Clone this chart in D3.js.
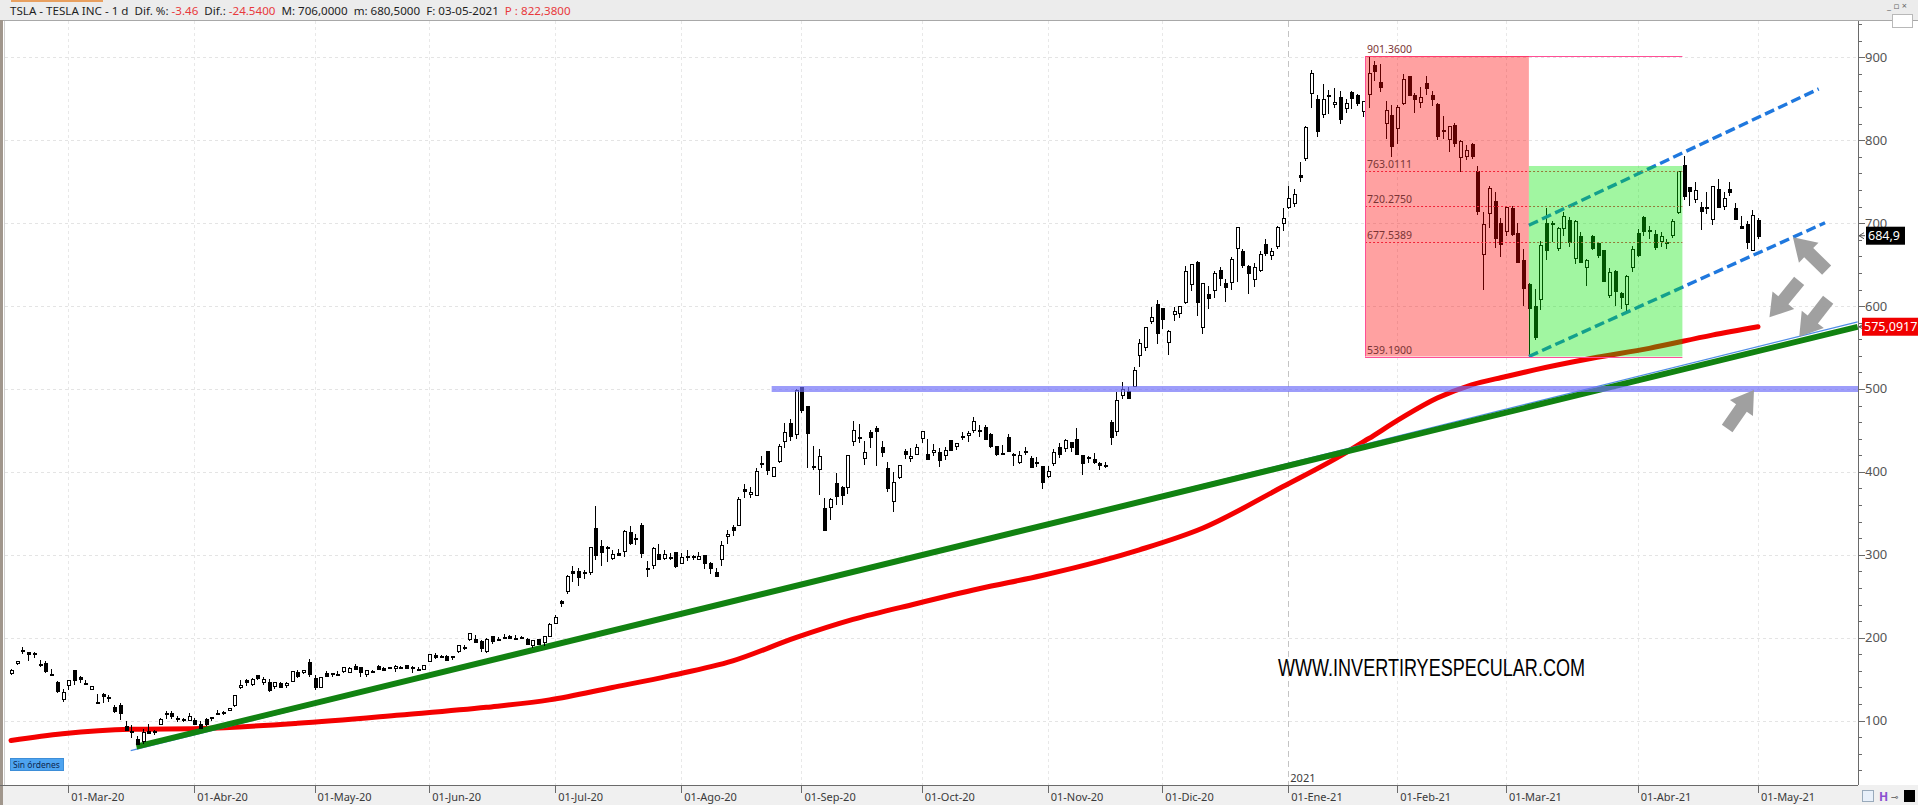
<!DOCTYPE html>
<html><head><meta charset="utf-8">
<script src="https://cdn.jsdelivr.net/npm/d3@7/dist/d3.min.js"></script>
<style>
html,body{margin:0;padding:0;background:#fff;overflow:hidden;}
svg{display:block;font-family:"Noto Sans","DejaVu Sans",sans-serif;}
</style></head><body>
<svg id="chart" width="1918" height="805"></svg>
<script>
// ---------- DATA ----------
const dates = [
"2020-02-14","2020-02-18","2020-02-19","2020-02-20","2020-02-21","2020-02-24","2020-02-25","2020-02-26","2020-02-27","2020-02-28",
"2020-03-02","2020-03-03","2020-03-04","2020-03-05","2020-03-06","2020-03-09","2020-03-10","2020-03-11","2020-03-12","2020-03-13","2020-03-16","2020-03-17","2020-03-18","2020-03-19","2020-03-20","2020-03-23","2020-03-24","2020-03-25","2020-03-26","2020-03-27","2020-03-30","2020-03-31",
"2020-04-01","2020-04-02","2020-04-03","2020-04-06","2020-04-07","2020-04-08","2020-04-09","2020-04-13","2020-04-14","2020-04-15","2020-04-16","2020-04-17","2020-04-20","2020-04-21","2020-04-22","2020-04-23","2020-04-24","2020-04-27","2020-04-28","2020-04-29","2020-04-30",
"2020-05-01","2020-05-04","2020-05-05","2020-05-06","2020-05-07","2020-05-08","2020-05-11","2020-05-12","2020-05-13","2020-05-14","2020-05-15","2020-05-18","2020-05-19","2020-05-20","2020-05-21","2020-05-22","2020-05-26","2020-05-27","2020-05-28","2020-05-29",
"2020-06-01","2020-06-02","2020-06-03","2020-06-04","2020-06-05","2020-06-08","2020-06-09","2020-06-10","2020-06-11","2020-06-12","2020-06-15","2020-06-16","2020-06-17","2020-06-18","2020-06-19","2020-06-22","2020-06-23","2020-06-24","2020-06-25","2020-06-26","2020-06-29","2020-06-30",
"2020-07-01","2020-07-02","2020-07-06","2020-07-07","2020-07-08","2020-07-09","2020-07-10","2020-07-13","2020-07-14","2020-07-15","2020-07-16","2020-07-17","2020-07-20","2020-07-21","2020-07-22","2020-07-23","2020-07-24","2020-07-27","2020-07-28","2020-07-29","2020-07-30","2020-07-31",
"2020-08-03","2020-08-04","2020-08-05","2020-08-06","2020-08-07","2020-08-10","2020-08-11","2020-08-12","2020-08-13","2020-08-14","2020-08-17","2020-08-18","2020-08-19","2020-08-20","2020-08-21","2020-08-24","2020-08-25","2020-08-26","2020-08-27","2020-08-28","2020-08-31",
"2020-09-01","2020-09-02","2020-09-03","2020-09-04","2020-09-08","2020-09-09","2020-09-10","2020-09-11","2020-09-14","2020-09-15","2020-09-16","2020-09-17","2020-09-18","2020-09-21","2020-09-22","2020-09-23","2020-09-24","2020-09-25","2020-09-28","2020-09-29","2020-09-30",
"2020-10-01","2020-10-02","2020-10-05","2020-10-06","2020-10-07","2020-10-08","2020-10-09","2020-10-12","2020-10-13","2020-10-14","2020-10-15","2020-10-16","2020-10-19","2020-10-20","2020-10-21","2020-10-22","2020-10-23","2020-10-26","2020-10-27","2020-10-28","2020-10-29","2020-10-30",
"2020-11-02","2020-11-03","2020-11-04","2020-11-05","2020-11-06","2020-11-09","2020-11-10","2020-11-11","2020-11-12","2020-11-13","2020-11-16","2020-11-17","2020-11-18","2020-11-19","2020-11-20","2020-11-23","2020-11-24","2020-11-25","2020-11-27","2020-11-30",
"2020-12-01","2020-12-02","2020-12-03","2020-12-04","2020-12-07","2020-12-08","2020-12-09","2020-12-10","2020-12-11","2020-12-14","2020-12-15","2020-12-16","2020-12-17","2020-12-18","2020-12-21","2020-12-22","2020-12-23","2020-12-24","2020-12-28","2020-12-29","2020-12-30","2020-12-31",
"2021-01-04","2021-01-05","2021-01-06","2021-01-07","2021-01-08","2021-01-11","2021-01-12","2021-01-13","2021-01-14","2021-01-15","2021-01-19","2021-01-20","2021-01-21","2021-01-22","2021-01-25","2021-01-26","2021-01-27","2021-01-28","2021-01-29",
"2021-02-01","2021-02-02","2021-02-03","2021-02-04","2021-02-05","2021-02-08","2021-02-09","2021-02-10","2021-02-11","2021-02-12","2021-02-16","2021-02-17","2021-02-18","2021-02-19","2021-02-22","2021-02-23","2021-02-24","2021-02-25","2021-02-26",
"2021-03-01","2021-03-02","2021-03-03","2021-03-04","2021-03-05","2021-03-08","2021-03-09","2021-03-10","2021-03-11","2021-03-12","2021-03-15","2021-03-16","2021-03-17","2021-03-18","2021-03-19","2021-03-22","2021-03-23","2021-03-24","2021-03-25","2021-03-26","2021-03-29","2021-03-30","2021-03-31",
"2021-04-01","2021-04-05","2021-04-06","2021-04-07","2021-04-08","2021-04-09","2021-04-12","2021-04-13","2021-04-14","2021-04-15","2021-04-16","2021-04-19","2021-04-20","2021-04-21","2021-04-22","2021-04-23","2021-04-26","2021-04-27","2021-04-28","2021-04-29","2021-04-30",
"2021-05-03"];

// [open, high, low, close] for each date
const ohlc = [
[157.4,162.4,155.2,160.0],[168.3,172.0,166.5,171.7],[184.7,189.0,180.2,183.5],[182.2,182.6,172.0,179.9],[181.4,182.6,175.7,180.2],[167.8,172.7,164.4,166.8],[169.8,171.3,157.4,160.0],[156.5,162.7,155.2,155.8],[146.0,148.0,133.8,135.8],[125.8,138.0,122.3,133.6],
[142.3,148.7,137.3,148.7],[161.0,161.4,143.2,149.1],[152.8,153.3,144.9,149.9],[144.8,149.2,143.6,144.9],[138.0,141.4,136.9,140.7],[121.1,132.6,121.0,121.6],[131.9,133.6,121.6,129.1],[128.0,130.7,122.6,126.8],[116.2,118.9,109.3,112.1],[119.0,121.5,100.4,109.3],[93.9,99.0,88.4,89.0],[88.0,94.4,79.2,86.0],[77.8,81.0,70.1,72.2],[74.9,90.4,71.6,85.5],[87.6,95.4,85.2,85.5],[86.7,88.4,82.1,86.9],[95.5,102.7,94.8,101.0],[109.0,111.4,102.2,107.9],[109.5,112.0,102.5,105.6],[101.0,105.2,98.8,102.9],[102.1,103.3,98.2,100.4],[100.3,108.6,99.4,104.8],
[100.8,102.8,95.0,96.3],[96.2,98.9,89.3,90.9],[101.8,103.1,93.7,96.0],[102.2,104.2,99.6,103.2],[109.0,113.0,106.5,109.1],[110.8,111.4,106.7,109.8],[112.4,115.0,111.4,114.6],[118.0,130.4,116.1,130.2],[139.8,148.4,138.5,142.0],[148.4,150.6,142.0,146.0],[143.4,151.9,141.3,149.0],[154.5,155.0,149.5,150.8],[146.5,153.1,142.4,149.3],[146.0,150.7,134.8,137.3],[140.8,146.8,137.7,146.4],[145.5,146.8,140.6,141.1],[142.2,146.1,139.6,145.0],[147.5,159.9,147.0,159.8],[159.1,161.0,151.3,153.8],[158.0,160.6,156.6,160.1],[171.0,174.0,152.7,156.4],
[151.0,154.6,136.6,140.3],[140.2,152.4,139.6,152.2],[158.0,159.8,152.4,153.6],[155.3,158.0,152.2,156.5],[155.4,159.3,154.5,156.0],[158.8,164.8,157.4,163.9],[158.1,164.8,157.0,162.3],[165.4,168.7,161.6,161.9],[164.2,165.2,152.7,158.2],[156.0,160.7,152.8,160.7],[158.1,161.0,157.3,159.8],[165.6,166.9,160.8,162.7],[163.0,164.3,160.8,161.6],[164.1,165.2,162.4,163.1],[163.2,166.5,159.2,165.5],[164.4,166.4,162.4,163.4],[166.9,166.9,163.1,163.8],[164.2,165.5,157.0,164.0],[162.7,165.0,160.3,161.2],[161.8,167.0,160.8,167.0],
[171.6,179.8,170.8,179.6],[178.9,181.7,174.2,176.3],[177.6,179.6,176.0,176.6],[178.0,179.2,171.7,172.9],[175.6,177.3,173.2,177.1],[183.8,190.0,181.8,190.0],[188.0,190.9,184.8,188.1],[198.4,205.5,196.5,205.0],[198.0,203.8,194.4,194.6],[196.0,197.6,182.5,187.1],[183.6,199.8,181.7,198.2],[202.4,202.6,192.5,196.4],[197.6,201.0,196.5,198.4],[200.6,203.9,198.9,200.8],[202.5,203.2,198.3,200.2],[200.0,203.1,198.7,198.9],[199.8,202.4,198.8,200.4],[198.8,200.2,190.6,192.2],[190.9,197.2,187.4,197.2],[199.0,199.0,191.0,192.0],[193.8,202.0,189.7,201.9],[201.3,217.5,200.7,216.0],
[216.6,227.1,216.1,223.9],[244.3,245.6,237.1,241.7],[255.3,275.6,253.2,274.3],[281.0,285.9,267.3,278.0],[281.0,283.5,262.3,273.2],[279.4,281.7,270.3,278.9],[279.2,309.8,275.2,308.9],[331.8,359.0,294.2,299.4],[311.2,318.0,286.2,303.4],[308.6,310.0,291.4,309.2],[295.4,306.3,293.2,300.1],[302.7,307.5,298.0,300.2],[303.8,330.0,297.6,328.6],[328.0,335.0,311.6,313.7],[319.8,325.3,312.4,318.5],[335.8,337.8,296.0,302.6],[283.2,293.0,273.3,283.4],[287.0,309.6,282.6,307.9],[300.8,312.9,294.9,295.3],[295.3,306.2,293.2,299.8],[297.6,302.6,294.2,297.5],[303.0,303.4,284.0,286.2],
[289.8,302.0,288.9,297.0],[299.0,305.6,292.4,297.4],[298.6,300.0,293.7,297.0],[294.4,303.6,293.6,297.9],[299.9,299.9,283.0,290.5],[289.6,291.4,277.0,283.7],[279.2,284.0,273.0,274.9],[294.0,317.0,287.0,311.0],[322.2,330.2,313.5,324.2],[333.0,336.2,323.2,330.1],[335.4,369.2,334.6,367.1],[379.8,384.8,369.0,377.4],[373.0,382.2,368.4,375.7],[372.1,404.4,371.5,400.4],[408.8,419.1,405.0,410.0],[425.3,425.8,396.8,402.8],[395.0,405.6,393.6,404.7],[412.0,433.2,410.7,430.6],[436.1,459.1,428.5,447.8],[459.0,463.7,437.3,442.7],[444.6,500.1,440.1,498.3],
[502.1,502.5,470.5,475.1],[479.0,479.0,405.1,447.4],[407.2,431.8,402.0,407.0],[402.8,428.0,372.0,418.3],[356.0,368.7,329.9,330.2],[356.6,369.0,341.5,366.3],[386.2,399.0,360.6,371.3],[381.9,382.5,360.5,372.7],[381.0,420.0,373.3,419.6],[436.6,461.9,430.7,449.8],[439.9,457.8,435.3,441.8],[415.6,437.8,408.0,423.4],[447.9,451.0,428.8,442.2],[453.1,455.7,407.1,449.4],[429.6,437.8,417.6,424.2],[405.2,412.2,375.9,380.4],[363.8,399.5,351.3,387.8],[393.5,408.7,391.3,407.3],[424.6,428.1,415.6,421.2],[416.0,428.5,411.6,419.1],[421.3,433.9,420.5,429.0],
[440.8,448.9,434.4,448.2],[421.4,439.1,415.0,415.1],[423.4,433.6,419.3,425.7],[423.8,428.8,406.1,414.0],[419.9,429.9,413.9,425.3],[438.4,439.0,425.3,425.9],[430.1,434.6,426.5,434.0],[442.0,448.7,438.6,442.3],[443.4,448.9,436.6,446.7],[449.8,465.9,447.4,461.3],[450.3,456.6,442.5,448.9],[454.4,456.0,438.9,439.7],[446.2,447.0,428.9,430.8],[431.8,431.8,419.1,421.9],[422.7,433.0,421.3,422.6],[441.9,445.2,424.5,425.8],[421.8,422.9,407.4,420.6],[411.6,425.8,410.0,420.3],[423.8,430.5,420.1,424.7],[416.5,418.6,406.0,406.0],[410.0,418.1,406.5,410.8],[406.9,407.6,379.1,388.0],
[394.0,407.0,392.3,400.5],[409.7,427.8,406.7,423.9],[430.6,435.4,417.1,421.0],[428.3,440.0,424.0,438.1],[436.1,436.6,424.3,430.0],[439.5,452.5,421.0,421.3],[420.1,420.1,396.0,410.4],[416.5,418.7,410.6,417.1],[415.1,423.0,409.5,411.8],[410.9,412.5,401.7,408.5],[408.9,412.5,404.1,408.1],[460.2,462.0,433.0,441.6],[448.4,496.0,443.5,486.6],[492.0,508.6,487.6,499.3],[498.0,502.5,489.1,489.6],[503.5,526.0,501.8,521.9],[540.4,560.0,526.2,555.4],[550.1,574.0,545.4,574.0],[581.2,598.8,578.5,585.8],[602.2,607.8,554.5,567.6],
[597.6,597.9,572.1,584.8],[556.4,571.5,541.2,568.8],[590.0,599.0,582.4,593.4],[591.0,599.0,585.5,599.0],[604.9,648.8,603.1,641.8],[625.5,651.3,618.5,649.9],[653.7,654.3,588.0,604.5],[574.4,627.8,566.3,627.1],[615.0,624.0,596.8,610.0],[619.0,642.8,610.2,639.8],[643.3,646.9,623.8,633.3],[628.2,632.5,605.0,622.8],[628.2,658.8,619.5,655.9],[668.9,695.0,628.5,695.0],[666.2,668.5,646.1,649.9],[648.0,649.9,614.2,640.3],[632.2,651.5,622.6,646.0],[643.0,666.1,641.0,661.8],[674.5,681.4,660.8,663.7],[661.0,669.9,655.0,666.0],[672.0,696.6,668.4,694.8],[700.0,718.7,691.1,705.7],
[719.5,744.5,717.2,729.8],[723.7,740.8,719.2,735.1],[758.5,774.0,749.1,756.0],[777.6,817.0,775.2,816.0],[856.0,884.5,838.4,880.0],[849.4,854.4,803.6,811.2],[831.0,868.0,827.3,849.4],[852.8,860.5,832.0,854.4],[843.4,863.0,838.8,845.0],[852.0,859.9,819.1,826.2],[837.8,850.0,833.0,844.6],[858.7,859.5,837.3,850.5],[855.0,855.7,841.4,845.0],[834.3,848.0,828.6,846.6],[855.0,901.4,838.8,880.8],[891.4,895.9,871.6,883.1],[870.4,891.5,858.7,864.2],[820.0,848.0,801.0,835.4],[830.0,842.4,780.1,793.5],
[814.3,842.0,795.6,839.8],[844.7,880.5,842.2,872.8],[877.0,878.1,853.1,854.7],[855.0,856.5,833.4,850.0],[845.0,864.8,839.0,852.2],[869.7,877.8,854.8,863.4],[855.1,859.8,841.8,849.5],[843.6,844.8,800.0,804.8],[812.4,829.9,801.7,811.7],[801.3,817.3,785.3,816.1],[818.0,821.0,792.4,796.2],[779.1,799.8,762.0,798.2],[780.9,794.7,776.3,787.4],[795.0,796.8,777.4,781.3],[762.6,768.5,710.2,714.5],[662.1,713.6,619.0,698.8],[711.9,745.0,694.2,742.0],[726.2,737.2,670.6,682.2],[700.0,706.7,659.5,675.5],
[690.1,719.0,685.1,718.4],[718.3,721.1,685.0,686.4],[688.0,700.7,651.7,653.2],[655.8,668.5,600.0,621.4],[626.1,627.8,539.2,598.0],[600.6,620.1,558.8,563.0],[608.2,678.1,595.2,673.6],[700.3,717.9,655.1,668.1],[699.4,702.5,677.2,699.6],[670.0,694.9,666.1,693.7],[694.1,713.2,684.0,707.9],[703.4,707.9,671.0,676.9],[656.9,703.7,651.0,701.8],[684.3,689.2,652.0,653.2],[646.6,657.2,624.6,654.9],[684.6,686.3,667.8,670.0],[675.8,677.8,657.5,662.2],[667.9,668.0,630.1,630.3],[613.0,645.5,609.5,640.4],[641.9,643.8,599.9,618.7],[615.6,616.5,596.0,611.3],[601.8,637.7,591.0,635.6],[646.6,672.0,641.1,667.9],
[688.4,692.4,659.4,661.8],[707.7,708.2,684.7,691.1],[690.3,696.6,681.4,691.6],[687.0,691.4,667.8,671.0],[677.4,689.6,671.7,683.8],[677.8,681.0,669.4,677.0],[685.7,704.8,682.1,702.0],[712.7,763.0,710.7,762.3],[770.7,780.8,728.0,732.2],[743.1,743.7,721.3,738.9],[728.7,749.4,724.6,739.8],[719.6,725.4,691.8,714.6],[717.4,737.3,710.7,719.0],[704.8,744.8,698.0,744.1],[741.5,753.8,718.0,719.7],[719.8,737.4,715.5,729.4],[741.0,749.3,732.6,738.2],[718.0,724.0,703.4,704.7],[696.4,708.5,693.6,694.4],[699.5,702.3,668.5,677.0],[667.6,715.5,666.1,709.4],
[703.8,706.0,680.5,684.9]];

// Moving average read at sample bars (bar index, value)
const maIdx = [0, 9, 21, 33, 50, 68, 83, 94, 105, 115, 126, 137, 147, 158, 169, 180, 190, 197, 208, 222, 233, 237, 243, 249, 255, 261, 266, 276, 286, 297, 305];
const maVal = [76, 84, 89.5, 90.5, 96.7, 106.8, 116, 125, 140, 154, 172, 200, 222, 241, 259, 275, 292, 306, 332, 382, 423, 440, 466, 489, 505, 515, 523, 537, 549, 565, 575.0917];

const tickDates = ["2020-03-02","2020-04-01","2020-05-01","2020-06-01","2020-07-01","2020-08-03","2020-09-01","2020-10-01","2020-11-02","2020-12-01","2021-01-04","2021-02-01","2021-03-01","2021-04-01","2021-05-03"];
const tickLabels = ["01-Mar-20","01-Abr-20","01-May-20","01-Jun-20","01-Jul-20","01-Ago-20","01-Sep-20","01-Oct-20","01-Nov-20","01-Dic-20","01-Ene-21","01-Feb-21","01-Mar-21","01-Abr-21","01-May-21"];
const yTicks = [100,200,300,400,500,600,700,800,900];

// Fibonacci / annotation levels (price units, bar indices)
const fibLevels = [901.36, 763.0111, 720.275, 677.5389, 539.19];
const fibLabels = ["901.3600","763.0111","720.2750","677.5389","539.1900"];
const fibStart = 236.4, fibSplit = 265, fibEnd = 291.8, greenTop = 769;
const supportLevel = 500, supportStart = 132.8;
const trendGreen = [[21.9, 68.5],[322.4, 575]];
const trendBlue = [[20.9, 63.7],[322.4, 581]];
const channelUp = [[265, 697.6],[315.6, 862]];
const channelDn = [[265, 539.19],[316.7, 700.5]];
const arrowTips = [[311.1, 682.9, -135.8],[307, 586.5, 129.2],[312.2, 563, 128],[304.3, 498.8, -55.2]];
const lastPrice = 684.9, lastPriceLabel = "684,9";
const maLast = 575.0917, maLastLabel = "575,0917";
const headerParts = [["TSLA - TESLA INC - 1 d  Dif. %: ","#1e1e1e"],["-3.46","#e8393c"],["  Dif.: ","#1e1e1e"],["-24.5400","#e8393c"],["  M: 706,0000  m: 680,5000  F: 03-05-2021  ","#1e1e1e"],["P : 822,3800","#e8393c"]];

// ---------- LAYOUT ----------
const W = 1918, H = 805;
const PL = 5, PR = 1858, PT = 21, PB = 785;
const svg = d3.select('#chart');
const x = d3.scaleLinear().domain([0, dates.length - 1]).range([11, 1758]);
const y = d3.scaleLinear().domain([22.3, 943.9]).range([PB, PT]);
const idxOf = d => dates.indexOf(d);

svg.append('rect').attr('width', W).attr('height', H).attr('fill', '#fff');
// header
svg.append('rect').attr('x', 0).attr('y', 0).attr('width', W).attr('height', 20).attr('fill', '#ececec');
svg.append('rect').attr('x', 11).attr('y', 0).attr('width', 92).attr('height', 2).attr('fill', '#e8a060');
svg.append('line').attr('x1', 0).attr('x2', W).attr('y1', 20.5).attr('y2', 20.5).attr('stroke', '#a8a8a8');
// bottom strip
svg.append('rect').attr('x', 0).attr('y', PB).attr('width', W).attr('height', H - PB).attr('fill', '#f0f0f0');
// left frame
svg.append('rect').attr('x', 0).attr('y', 20).attr('width', 3).attr('height', H - 20).attr('fill', '#a0968c');
svg.append('line').attr('x1', 4.5).attr('x2', 4.5).attr('y1', 21).attr('y2', PB).attr('stroke', '#d0d0d0');

svg.append('clipPath').attr('id', 'clip').append('rect').attr('x', PL).attr('y', PT).attr('width', PR - PL).attr('height', PB - PT);
const g = svg.append('g').attr('clip-path', 'url(#clip)');

// grid
const tickIdx = tickDates.map(idxOf);
g.selectAll('.hg').data(yTicks).join('line')
  .attr('x1', PL).attr('x2', PR).attr('y1', d => Math.round(y(d)) + 0.5).attr('y2', d => Math.round(y(d)) + 0.5)
  .attr('stroke', '#e4e4e4').attr('stroke-dasharray', '3,3');
g.selectAll('.vg').data(tickIdx).join('line')
  .attr('x1', d => Math.round(x(d)) + 0.5).attr('x2', d => Math.round(x(d)) + 0.5).attr('y1', PT).attr('y2', PB)
  .attr('stroke', d => d === idxOf("2021-01-04") ? '#c4c4c4' : '#e8e8e8')
  .attr('stroke-dasharray', d => d === idxOf("2021-01-04") ? '6,4' : '3,3');

// moving average
const maLine = d3.line().x(d => x(d[0])).y(d => y(d[1])).curve(d3.curveMonotoneX);
g.append('path').datum(maIdx.map((d, i) => [d, maVal[i]]))
  .attr('d', maLine).attr('fill', 'none').attr('stroke', '#f40000').attr('stroke-width', 5).attr('stroke-linecap', 'round');

// trend lines (thin blue under the thick green)
const seg = d3.line().x(d => x(d[0])).y(d => y(d[1]));
g.append('path').datum(trendBlue).attr('d', seg).attr('stroke', '#4f8de6').attr('stroke-width', 1.2).attr('fill', 'none');
g.append('path').datum(trendGreen).attr('d', seg).attr('stroke', '#118211').attr('stroke-width', 6).attr('fill', 'none');

// candles
const cg = g.append('g').attr('shape-rendering', 'crispEdges');
ohlc.forEach((d, i) => {
  const [o, h, l, c] = d;
  const cx = Math.round(x(i)) + 0.5;
  cg.append('line').attr('x1', cx).attr('x2', cx).attr('y1', y(h)).attr('y2', y(l)).attr('stroke', '#000');
  const top = y(Math.max(o, c)), bot = y(Math.min(o, c));
  const bh = Math.max(bot - top, 1);
  if (c >= o) {
    cg.append('rect').attr('x', cx - 1.5).attr('y', top).attr('width', 3).attr('height', Math.max(bh, 1))
      .attr('fill', '#fff').attr('stroke', '#000');
  } else {
    cg.append('rect').attr('x', cx - 2).attr('y', top).attr('width', 4).attr('height', bh + 1).attr('fill', '#000');
  }
});

// support level band
g.append('line').attr('x1', x(supportStart)).attr('x2', PR).attr('y1', y(supportLevel)).attr('y2', y(supportLevel))
  .attr('stroke', '#6e6ef8').attr('stroke-opacity', 0.68).attr('stroke-width', 6);

// dashed channel
[channelUp, channelDn].forEach(c => g.append('path').datum(c).attr('d', seg)
  .attr('stroke', '#1f78de').attr('stroke-width', 3.4).attr('stroke-dasharray', '10,4.5').attr('fill', 'none'));

// fib lines
fibLevels.forEach((v, k) => {
  const solid = (k === 0 || k === fibLevels.length - 1);
  g.append('line').attr('x1', x(fibStart)).attr('x2', x(fibEnd)).attr('y1', Math.round(y(v)) + 0.5).attr('y2', Math.round(y(v)) + 0.5)
    .attr('stroke', solid ? '#ff4f96' : '#ea3a5a').attr('stroke-width', 1)
    .attr('stroke-dasharray', solid ? null : '2,2');
});
// overlay boxes
g.append('rect').attr('x', x(fibStart)).attr('y', y(fibLevels[0])).attr('width', x(fibSplit) - x(fibStart))
  .attr('height', y(fibLevels[4]) - y(fibLevels[0])).attr('fill', '#ff0000').attr('fill-opacity', 0.37);
g.append('rect').attr('x', x(fibSplit)).attr('y', y(greenTop)).attr('width', x(fibEnd) - x(fibSplit))
  .attr('height', y(fibLevels[4]) - y(greenTop)).attr('fill', '#00e600').attr('fill-opacity', 0.37);
g.append('line').attr('x1', Math.round(x(fibStart)) + 0.5).attr('x2', Math.round(x(fibStart)) + 0.5)
  .attr('y1', y(fibLevels[0])).attr('y2', y(fibLevels[4])).attr('stroke', '#ff4f96');
// fib labels
fibLevels.forEach((v, k) => {
  g.append('text').attr('x', x(fibStart) + 2).attr('y', y(v) - 3).attr('font-size', 10.5)
    .attr('fill', '#7a3434').text(fibLabels[k]);
});

// arrows
const arrowPath = "M0,0 L-22,-14 L-22,-6.5 L-47,-6.5 L-47,6.5 L-22,6.5 L-22,14 Z";
arrowTips.forEach(a => {
  g.append('path').attr('d', arrowPath)
    .attr('transform', `translate(${x(a[0])},${y(a[1])}) rotate(${a[2]})`)
    .attr('fill', '#9b9b9b').attr('fill-opacity', 0.95);
});

// watermark
svg.append('text').attr('x', 1278).attr('y', 676).attr('font-family', '"Liberation Sans Narrow","Liberation Sans",sans-serif')
  .attr('font-size', 23).attr('fill', '#000').attr('textLength', 307).attr('lengthAdjust', 'spacingAndGlyphs')
  .text('WWW.INVERTIRYESPECULAR.COM');

// Sin órdenes badge
svg.append('rect').attr('x', 10.5).attr('y', 758.5).attr('width', 53).attr('height', 12).attr('fill', '#4ea4f0').attr('stroke', '#3d8ed8');
svg.append('text').attr('x', 13).attr('y', 768).attr('font-size', 8.5).attr('fill', '#0d2750').text('Sin órdenes');

// right axis
svg.append('line').attr('x1', PR + 0.5).attr('x2', PR + 0.5).attr('y1', PT).attr('y2', PB).attr('stroke', '#6a6a6a');
const minor = d3.range(40, 941, 20).filter(v => v % 100 !== 0);
svg.selectAll('.mt').data(minor).join('line')
  .attr('x1', PR).attr('x2', PR + 4).attr('y1', d => Math.round(y(d)) + 0.5).attr('y2', d => Math.round(y(d)) + 0.5).attr('stroke', '#6a6a6a');
svg.selectAll('.Mt').data(yTicks).join('line')
  .attr('x1', PR).attr('x2', PR + 7).attr('y1', d => Math.round(y(d)) + 0.5).attr('y2', d => Math.round(y(d)) + 0.5).attr('stroke', '#6a6a6a');
svg.selectAll('.yl').data(yTicks).join('text')
  .attr('x', 1865).attr('y', d => y(d) + 4.5).attr('font-size', 13).attr('fill', '#555').text(d => d);

// bottom axis
svg.append('line').attr('x1', 0).attr('x2', PR).attr('y1', PB + 0.5).attr('y2', PB + 0.5).attr('stroke', '#6a6a6a');
svg.selectAll('.xt').data(tickIdx).join('line')
  .attr('x1', d => Math.round(x(d)) + 0.5).attr('x2', d => Math.round(x(d)) + 0.5).attr('y1', PB).attr('y2', PB + 8).attr('stroke', '#6a6a6a');
svg.selectAll('.xl').data(tickIdx).join('text')
  .attr('x', d => x(d) + 3).attr('y', 801).attr('font-size', 11).attr('fill', '#3a3a3a').text((d, i) => tickLabels[i]);
svg.append('text').attr('x', x(idxOf("2021-01-04")) + 2).attr('y', 782).attr('font-size', 11).attr('fill', '#3a3a3a').text('2021');

// price labels
function priceTag(v, label, bg, x0, w) {
  const yy = y(v);
  svg.append('path').attr('d', `M${PR + 1},${yy} l5,-3 M${PR + 1},${yy} l5,3 M${PR + 1},${yy} h6`).attr('stroke', '#555').attr('fill', 'none');
  svg.append('rect').attr('x', x0).attr('y', yy - 9).attr('width', w).attr('height', 18).attr('fill', bg);
  svg.append('text').attr('x', x0 + 2).attr('y', yy + 4.5).attr('font-size', 12.5).attr('fill', '#fff').text(label);
}
priceTag(lastPrice, lastPriceLabel, '#000', 1866, 39);
priceTag(maLast, maLastLabel, '#f00000', 1862, 56);

// header text
const ht = svg.append('text').attr('x', 10).attr('y', 14.5).attr('font-size', 11.6).style('white-space', 'pre');
headerParts.forEach(p => ht.append('tspan').attr('fill', p[1]).text(p[0]));

// window controls
svg.append('text').attr('x', 1887).attr('y', 9).attr('font-size', 9).attr('fill', '#666').style('white-space', 'pre').text('_ ▫ ×');
svg.append('rect').attr('x', 1892.5).attr('y', 14.5).attr('width', 20).attr('height', 13).attr('fill', '#fff').attr('stroke', '#b8b8b8');
// bottom-right icons
svg.append('rect').attr('x', 1862.5).attr('y', 790.5).attr('width', 11).attr('height', 11).attr('fill', '#e8f0fa').attr('stroke', '#9ab');
svg.append('text').attr('x', 1879).attr('y', 801).attr('font-size', 12).attr('font-weight', 'bold').attr('fill', '#8a4fd0').text('H');
svg.append('text').attr('x', 1891).attr('y', 800).attr('font-size', 9).attr('fill', '#555').text('⊸');
svg.append('rect').attr('x', 1904).attr('y', 790).attr('width', 11).attr('height', 12).attr('fill', '#000');
</script>
</body></html>
